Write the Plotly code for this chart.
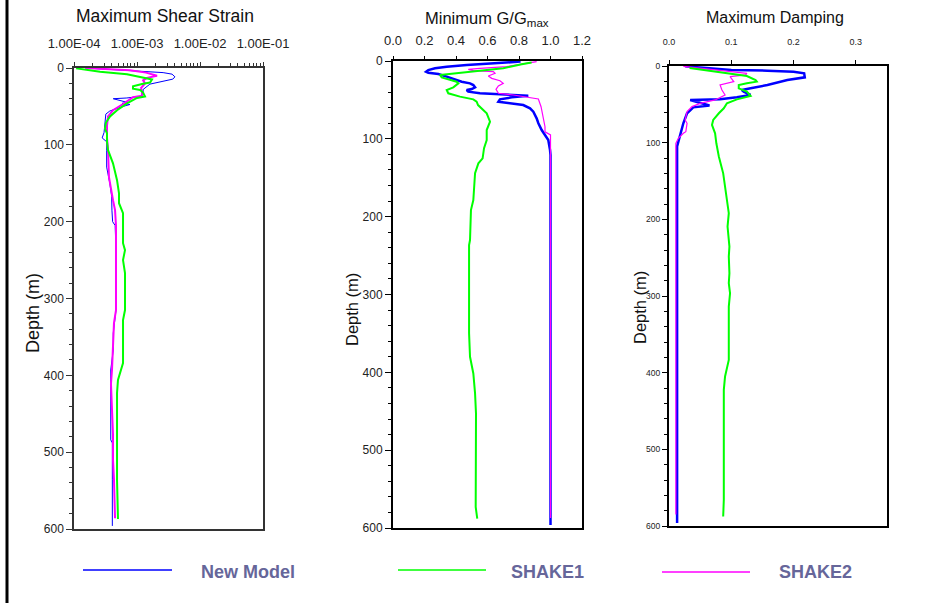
import plotly.graph_objects as go

# ---------------- data ----------------
# Maximum shear strain (log scale) vs depth (m)
strain_new_depth = [0, 4.8, 6, 8, 11.5, 14.5, 21, 28, 33, 37, 39, 40, 45, 46, 47.5, 50, 56, 60, 71, 84,
                    91, 96, 107, 129, 150, 167, 185, 200, 205, 237, 315, 345, 367, 393, 484, 488, 536, 596]
strain_new = [1.55e-4, 1.45e-3, 2.6e-3, 3.6e-3, 4.0e-3, 3.7e-3, 1.6e-3, 1.25e-3, 1.25e-3, 1.1e-3, 6.9e-4,
              4.2e-4, 7.2e-4, 5.8e-4, 7.7e-4, 6.0e-4, 3.7e-4, 3.2e-4, 3.1e-4, 3.0e-4,
              2.8e-4, 3.3e-4, 3.3e-4, 3.3e-4, 3.7e-4, 3.96e-4, 4.0e-4, 4.1e-4, 4.5e-4, 4.64e-4, 4.64e-4,
              4.2e-4, 4.2e-4, 3.83e-4, 3.83e-4, 4.06e-4, 4.06e-4, 4.06e-4]

strain_s1_depth = [0.5, 4.8, 8, 11, 13, 15, 19, 20.8, 23.9, 27, 28.6, 32, 37, 39, 46, 55, 63, 71, 79, 85,
                   96, 107, 124, 146, 163, 176, 189, 228, 237, 250, 267, 315, 328, 384, 406, 423, 536, 587]
strain_s1 = [1.08e-4, 2.59e-4, 6.94e-4, 1.0e-3, 1.44e-3, 1.73e-3, 1.61e-3, 1.2e-3, 8.65e-4, 8.65e-4,
             1.12e-3, 1.25e-3, 1.34e-3, 1.0e-3, 6.94e-4, 4.82e-4, 3.73e-4, 3.22e-4, 3.1e-4, 3.34e-4,
             3.34e-4, 3.47e-4, 4.16e-4, 4.82e-4, 5.18e-4, 5.18e-4, 6.0e-4, 6.0e-4, 6.45e-4, 6.0e-4,
             6.45e-4, 6.45e-4, 6.0e-4, 6.0e-4, 4.99e-4, 4.82e-4, 4.82e-4, 4.99e-4]

strain_s2_depth = [0, 3, 6, 8.5, 10, 12.8, 16, 20, 26, 30, 36, 38, 43, 47, 55, 63, 75, 91, 107, 142,
                   172, 185, 205, 315, 332, 367, 393, 411, 446, 477, 510, 536, 586]
strain_s2 = [1.5e-4, 7.74e-4, 1.39e-3, 1.8e-3, 2.08e-3, 1.44e-3, 1.25e-3, 1.34e-3, 1.16e-3, 1.2e-3,
             1.2e-3, 8.65e-4, 7.19e-4, 6.0e-4, 4.16e-4, 3.47e-4, 3.34e-4, 3.34e-4, 3.47e-4, 3.59e-4,
             4.16e-4, 4.48e-4, 4.64e-4, 4.64e-4, 4.31e-4, 4.16e-4, 4.01e-4, 3.86e-4, 4.01e-4, 4.16e-4,
             4.16e-4, 4.31e-4, 4.48e-4]

# Minimum G/Gmax vs depth (m)
g_new_depth = [0.8, 3.0, 5.1, 7.3, 9.4, 11.6, 13.7, 15.0, 16.7, 20.1, 23.3, 26.6, 28.7, 30.9, 33.8, 36,
               37.3, 39.4, 41.5, 42.8, 44.6, 46.7, 49.3, 52.3, 54.4, 56.6, 60.8, 65.1, 73.7, 80, 88.7,
               95, 101.5, 114.4, 120.8, 596]
g_new = [0.81, 0.616, 0.468, 0.341, 0.267, 0.224, 0.21, 0.224, 0.288, 0.341, 0.394, 0.436, 0.489, 0.51,
         0.521, 0.50, 0.468, 0.478, 0.552, 0.679, 0.859, 0.754, 0.679, 0.669, 0.743, 0.827, 0.870,
         0.891, 0.912, 0.923, 0.944, 0.965, 0.986, 0.997, 1.0, 1.0]

g_s1_depth = [1.9, 4.1, 9.4, 12.4, 15, 18, 21, 23.6, 26.6, 28.7, 33.8, 37.3, 41.5, 45.8, 49.3, 52.3,
              56.6, 67.3, 78, 88.7, 101.5, 112, 125, 131.5, 144, 166, 178.7, 191.5, 230, 236.5, 349.6,
              380, 401.5, 427, 453, 573, 588]
g_s1 = [0.88, 0.817, 0.70, 0.573, 0.425, 0.298, 0.309, 0.362, 0.404, 0.415, 0.383, 0.341, 0.351, 0.425,
        0.51, 0.531, 0.54, 0.595, 0.616, 0.595, 0.595, 0.578, 0.569, 0.542, 0.521, 0.514, 0.51, 0.495,
        0.489, 0.483, 0.483, 0.489, 0.51, 0.521, 0.527, 0.525, 0.535]

g_s2_depth = [0.8, 3, 7.3, 9.4, 10.7, 12.4, 13.7, 15.8, 19.3, 22.3, 25.3, 28.7, 32.1, 36.4, 41.5, 43.7,
              48.8, 58.7, 73.7, 84.4, 91, 95, 587]
g_s2 = [0.912, 0.849, 0.722, 0.552, 0.478, 0.51, 0.637, 0.648, 0.605, 0.627, 0.679, 0.70, 0.669, 0.654,
        0.669, 0.764, 0.923, 0.94, 0.954, 0.965, 0.965, 1.0, 1.0]

# Maximum damping vs depth (m)
d_new_depth = [0.4, 5.2, 6.1, 7.4, 9.6, 14.8, 18.3, 24.8, 29.1, 31.3, 33.5, 37.8, 40.8, 43.5, 44.3,
               46.5, 48.7, 51.5, 53.9, 57.4, 61.7, 74.7, 92, 105, 596]
d_new = [0.026, 0.10, 0.158, 0.20, 0.217, 0.218, 0.19, 0.158, 0.131, 0.117, 0.12, 0.131, 0.109, 0.082,
         0.034, 0.045, 0.055, 0.065, 0.039, 0.034, 0.029, 0.023, 0.018, 0.013, 0.013]

d_s1_depth = [2.6, 5.2, 7.4, 10.4, 13, 18.3, 20.4, 22.6, 24.8, 29.1, 33.5, 39.1, 43.5, 48.7, 55.2, 61.7,
              70.4, 76.9, 87.8, 100.8, 118, 140, 157, 174.7, 192, 209.5, 235.6, 248.6, 270.3, 283.3,
              296.4, 313.8, 383.3, 405, 422.4, 565.8, 587.6]
d_s1 = [0.033, 0.055, 0.077, 0.104, 0.125, 0.139, 0.141, 0.125, 0.112, 0.112, 0.125, 0.131, 0.109, 0.093,
        0.088, 0.080, 0.071, 0.069, 0.074, 0.076, 0.080, 0.087, 0.090, 0.092, 0.096, 0.094, 0.097, 0.096,
        0.097, 0.096, 0.098, 0.096, 0.096, 0.090, 0.088, 0.088, 0.087]

d_s2_depth = [0.4, 5.2, 9.6, 11.7, 13.9, 20.4, 22.6, 24.8, 31.3, 37.8, 44.3, 48.7, 53, 59.5, 70.4, 74.7,
              85.6, 87.8, 94.3, 100.8, 585]
d_s2 = [0.023, 0.082, 0.125, 0.123, 0.098, 0.104, 0.093, 0.082, 0.085, 0.09, 0.074, 0.05, 0.037, 0.029,
        0.026, 0.029, 0.027, 0.023, 0.015, 0.011, 0.011]

series_names = ["New Model", "SHAKE1", "SHAKE2"]
series_colors = ["#0000ff", "#00ff00", "#ff00ff"]

strain_ticks = [1e-4, 1e-3, 1e-2, 1e-1]
strain_ticktext = ["1.00E-04", "1.00E-03", "1.00E-02", "1.00E-01"]
depth_ticks = [0, 100, 200, 300, 400, 500, 600]

# ---------------- layout helpers ----------------
W, H = 951, 603
FONT = "Arial, 'Liberation Sans', sans-serif"


def px_x(p):
    return p / W


def px_y(p):
    return 1 - p / H


fig = go.Figure()

panels = [
    ("x", "y", [(strain_new_depth, strain_new, 1.0), (strain_s1_depth, strain_s1, 2.0),
                (strain_s2_depth, strain_s2, 2.0)]),
    ("x2", "y2", [(g_new_depth, g_new, 2.5), (g_s1_depth, g_s1, 2.0), (g_s2_depth, g_s2, 1.2)]),
    ("x3", "y3", [(d_new_depth, d_new, 2.5), (d_s1_depth, d_s1, 2.0), (d_s2_depth, d_s2, 1.2)]),
]

draw_order = [0, 2, 1]  # blue, magenta, green on top
for xa, ya, curves in panels:
    for i in draw_order:
        dep, val, w = curves[i]
        fig.add_trace(go.Scatter(
            x=val, y=dep, mode="lines", name=series_names[i], showlegend=False,
            line=dict(color=series_colors[i], width=w), xaxis=xa, yaxis=ya,
        ))

axis_common = dict(showgrid=False, zeroline=False, showline=True, mirror=True, color="#000000",
                   automargin=False)

# Panel 1 : Maximum Shear Strain
fig.update_layout(
    xaxis=dict(axis_common, type="log", range=[-4, -1], side="top", anchor="y",
               domain=[px_x(74), px_x(263)], tickmode="array", tickvals=strain_ticks,
               ticktext=strain_ticktext, ticks="outside", ticklen=4, tickwidth=1,
               linecolor="#333333", linewidth=1.5, tickcolor="#333333",
               ticklabelstandoff=9,
               minor=dict(tickmode="array",
                          tickvals=[k * 10 ** e for e in (-4, -3, -2) for k in range(2, 10)],
                          ticks="outside", ticklen=3, tickcolor="#333333"),
               tickfont=dict(family=FONT, size=13, color="#222222")),
    yaxis=dict(axis_common, range=[600, 0], anchor="x", domain=[px_y(529), px_y(68)],
               tickmode="array", tickvals=depth_ticks, ticks="outside", ticklen=6,
               linecolor="#333333", linewidth=1.5, tickcolor="#333333",
               minor=dict(dtick=20, tick0=0, ticks="outside", ticklen=3, tickcolor="#333333"),
               tickfont=dict(family=FONT, size=12, color="#222222")),
    # Panel 2 : Minimum G/Gmax
    xaxis2=dict(axis_common, range=[0, 1.2], side="top", anchor="y2",
                domain=[px_x(393), px_x(582)], tickmode="array",
                tickvals=[0, 0.2, 0.4, 0.6, 0.8, 1.0, 1.2], tickformat=".1f",
                ticks="outside", ticklen=3, linecolor="#000000", linewidth=2,
                ticklabelstandoff=6,
                tickfont=dict(family=FONT, size=13, color="#222222")),
    yaxis2=dict(axis_common, range=[600, 0], anchor="x2", domain=[px_y(528), px_y(61)],
                tickmode="array", tickvals=depth_ticks, ticks="outside", ticklen=6,
                linecolor="#000000", linewidth=2,
                minor=dict(dtick=20, tick0=0, ticks="outside", ticklen=3),
                tickfont=dict(family=FONT, size=12, color="#222222")),
    # Panel 3 : Maximum Damping
    xaxis3=dict(axis_common, range=[0, 0.35], side="top", anchor="y3",
                domain=[px_x(669), px_x(887)], tickmode="array",
                tickvals=[0, 0.1, 0.2, 0.3], tickformat=".1f",
                ticks="outside", ticklen=4, linecolor="#000000", linewidth=2,
                ticklabelstandoff=11,
                tickfont=dict(family=FONT, size=9, color="#222222")),
    yaxis3=dict(axis_common, range=[600, 0], anchor="x3", domain=[px_y(526), px_y(66)],
                tickmode="array", tickvals=depth_ticks, ticks="outside", ticklen=5,
                linecolor="#000000", linewidth=2,
                minor=dict(dtick=20, tick0=0, ticks="outside", ticklen=3),
                tickfont=dict(family=FONT, size=8.5, color="#222222")),
)

annotations = [
    dict(text="Maximum Shear Strain", x=px_x(165), y=px_y(16), size=17.5),
    dict(text="Minimum G/G<sub>max</sub>", x=px_x(487), y=px_y(19), size=16.5),
    dict(text="Maximum Damping", x=px_x(775), y=px_y(18), size=16),
]
for a in annotations:
    fig.add_annotation(text=a["text"], x=a["x"], y=a["y"], xref="paper", yref="paper",
                       xanchor="center", yanchor="middle", showarrow=False,
                       font=dict(family=FONT, size=a["size"], color="#111111"))

for xpos, ypos, size in [(33, 313, 18), (352, 310, 16.5), (640, 308, 16.5)]:
    fig.add_annotation(text="Depth (m)", x=px_x(xpos), y=px_y(ypos), xref="paper", yref="paper",
                       xanchor="center", yanchor="middle", showarrow=False, textangle=-90,
                       font=dict(family=FONT, size=size, color="#111111"))

# Legend: a line sample followed by a bold label for each series
legend_items = [
    (83, 172, 570, 248, 572),
    (398, 486, 570, 547, 572),
    (662, 750, 572, 815, 572),
]
for i, (x0, x1, ly, tx, ty) in enumerate(legend_items):
    fig.add_shape(type="line", xref="paper", yref="paper",
                  x0=px_x(x0), x1=px_x(x1), y0=px_y(ly), y1=px_y(ly),
                  line=dict(color=series_colors[i], width=1.5))
    fig.add_annotation(text="<b>%s</b>" % series_names[i], x=px_x(tx), y=px_y(ty),
                       xref="paper", yref="paper", xanchor="center", yanchor="middle",
                       showarrow=False, font=dict(family=FONT, size=18, color="#66669a"))

# Frame edge on the left side of the page
fig.add_shape(type="line", xref="paper", yref="paper", x0=px_x(7), x1=px_x(7), y0=0, y1=1,
              line=dict(color="#000000", width=3))

fig.update_layout(
    width=W, height=H, margin=dict(l=0, r=0, t=0, b=0, pad=0, autoexpand=False),
    paper_bgcolor="white", plot_bgcolor="white", showlegend=False,
)

fig.write_html("out.html")
